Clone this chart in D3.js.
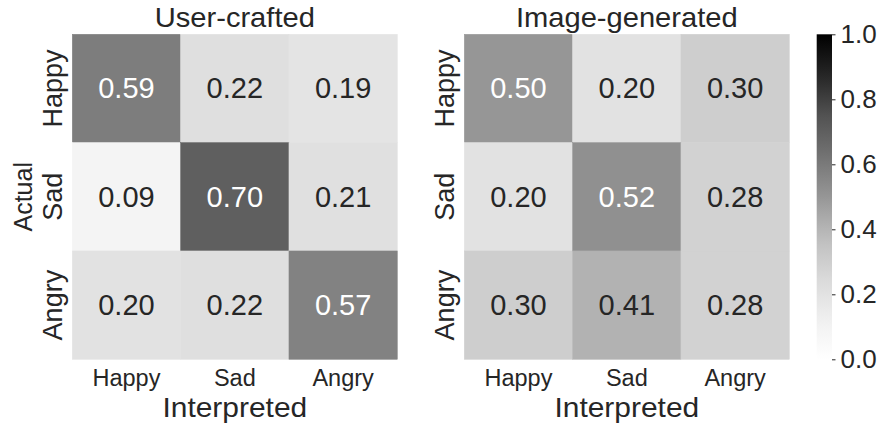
<!DOCTYPE html>
<html>
<head>
<meta charset="utf-8">
<script src="https://cdn.jsdelivr.net/npm/d3@7"></script>
<style>
  html, body { margin: 0; padding: 0; background: #ffffff; }
  svg { display: block; font-family: "Liberation Sans", Arial, sans-serif; }
</style>
</head>
<body>
<svg id="chart" width="880" height="428"></svg>
<script>
// Emotion categories (rows = actual, columns = interpreted)
const categories = ["Happy", "Sad", "Angry"];

// Confusion matrices, one row per actual emotion
const userCrafted = [
  [0.59, 0.22, 0.19],
  [0.09, 0.70, 0.21],
  [0.20, 0.22, 0.57]
];
const imageGenerated = [
  [0.50, 0.20, 0.30],
  [0.20, 0.52, 0.28],
  [0.30, 0.41, 0.28]
];

const panelTitles = ["User-crafted", "Image-generated"];
const colorbarTicks = [0.0, 0.2, 0.4, 0.6, 0.8, 1.0];

// Greys colour ramp stops
const greyStops = ["#ffffff", "#f0f0f0", "#d9d9d9", "#bdbdbd", "#969696",
                   "#737373", "#525252", "#252525", "#000000"];

const svg = d3.select("#chart");
const textColor = "#262626";

const color = d3.scaleLinear()
  .domain(greyStops.map((_, i) => i / (greyStops.length - 1)))
  .range(greyStops)
  .interpolate(d3.interpolateRgb)
  .clamp(true);

const plotTop = 34.3, plotBottom = 359.3;
const panels = [
  { data: userCrafted, x0: 72.3, x1: 397.3, title: panelTitles[0], showYLabel: true },
  { data: imageGenerated, x0: 464.3, x1: 789.3, title: panelTitles[1], showYLabel: false }
];

const y = d3.scaleBand().domain(categories).range([plotTop, plotBottom]).padding(0);

panels.forEach(p => {
  const x = d3.scaleBand().domain(categories).range([p.x0, p.x1]).padding(0);
  const g = svg.append("g");
  const cx = (p.x0 + p.x1) / 2;

  const cells = [];
  p.data.forEach((row, ri) => row.forEach((v, ci) => {
    cells.push({ actual: categories[ri], interp: categories[ci], value: v });
  }));

  g.selectAll("rect.cell").data(cells).join("rect")
    .attr("class", "cell")
    .attr("x", d => x(d.interp))
    .attr("y", d => y(d.actual))
    .attr("width", x.bandwidth())
    .attr("height", y.bandwidth())
    .attr("fill", d => color(d.value))
    .attr("stroke", d => color(d.value))
    .attr("stroke-width", 0.5);

  g.selectAll("text.annot").data(cells).join("text")
    .attr("class", "annot")
    .attr("x", d => x(d.interp) + x.bandwidth() / 2)
    .attr("y", d => y(d.actual) + y.bandwidth() / 2)
    .attr("text-anchor", "middle")
    .attr("dominant-baseline", "central")
    .attr("font-size", 29)
    .attr("fill", d => d.value > 0.45 ? "#ffffff" : textColor)
    .text(d => d.value.toFixed(2));

  // Panel title
  g.append("text")
    .attr("transform", `translate(${cx},26.7) scale(1.04,1)`)
    .attr("text-anchor", "middle")
    .attr("font-size", 28)
    .attr("fill", textColor)
    .text(p.title);

  // Interpreted (x) tick labels
  const xAxis = g.append("g")
    .attr("transform", `translate(0,${plotBottom})`)
    .call(d3.axisBottom(x).tickSize(0).tickPadding(0));
  xAxis.select(".domain").remove();
  xAxis.selectAll("text")
    .attr("y", 26.3)
    .attr("dy", null)
    .attr("font-size", 23.5)
    .attr("font-family", null)
    .attr("fill", textColor);

  // Actual (y) tick labels, rotated
  g.selectAll("text.ytick").data(categories).join("text")
    .attr("class", "ytick")
    .attr("transform", d => `translate(${p.x0 - 10.5},${y(d) + y.bandwidth() / 2}) rotate(-90)`)
    .attr("text-anchor", "middle")
    .attr("font-size", 27)
    .attr("fill", textColor)
    .text(d => d);

  // Axis titles
  g.append("text")
    .attr("transform", `translate(${cx},416.5) scale(1.05,1)`)
    .attr("text-anchor", "middle")
    .attr("font-size", 28.5)
    .attr("fill", textColor)
    .text("Interpreted");

  if (p.showYLabel) {
    g.append("text")
      .attr("transform", `translate(32.3,${(plotTop + plotBottom) / 2}) rotate(-90)`)
      .attr("text-anchor", "middle")
      .attr("font-size", 25)
      .attr("fill", textColor)
      .text("Actual");
  }
});

// Colour bar
const cbX0 = 816.7, cbX1 = 832;
const cbScale = d3.scaleLinear().domain([0, 1]).range([plotBottom, plotTop]);

const defs = svg.append("defs");
const grad = defs.append("linearGradient")
  .attr("id", "greysGrad")
  .attr("x1", 0).attr("y1", 1).attr("x2", 0).attr("y2", 0);
grad.selectAll("stop").data(d3.range(0, 1.0001, 0.05)).join("stop")
  .attr("offset", d => d)
  .attr("stop-color", d => color(d));

svg.append("rect")
  .attr("x", cbX0)
  .attr("y", plotTop)
  .attr("width", cbX1 - cbX0)
  .attr("height", plotBottom - plotTop)
  .attr("fill", "url(#greysGrad)");

const cbAxis = svg.append("g")
  .attr("transform", `translate(${cbX1},0)`)
  .call(d3.axisRight(cbScale).tickValues(colorbarTicks).tickFormat(d3.format(".1f"))
        .tickSize(3.5).tickPadding(5));
cbAxis.select(".domain").remove();
cbAxis.selectAll(".tick line").attr("stroke", textColor).attr("stroke-width", 1);
cbAxis.selectAll("text")
  .attr("font-size", 26)
  .attr("font-family", null)
  .attr("fill", textColor);
</script>
</body>
</html>
